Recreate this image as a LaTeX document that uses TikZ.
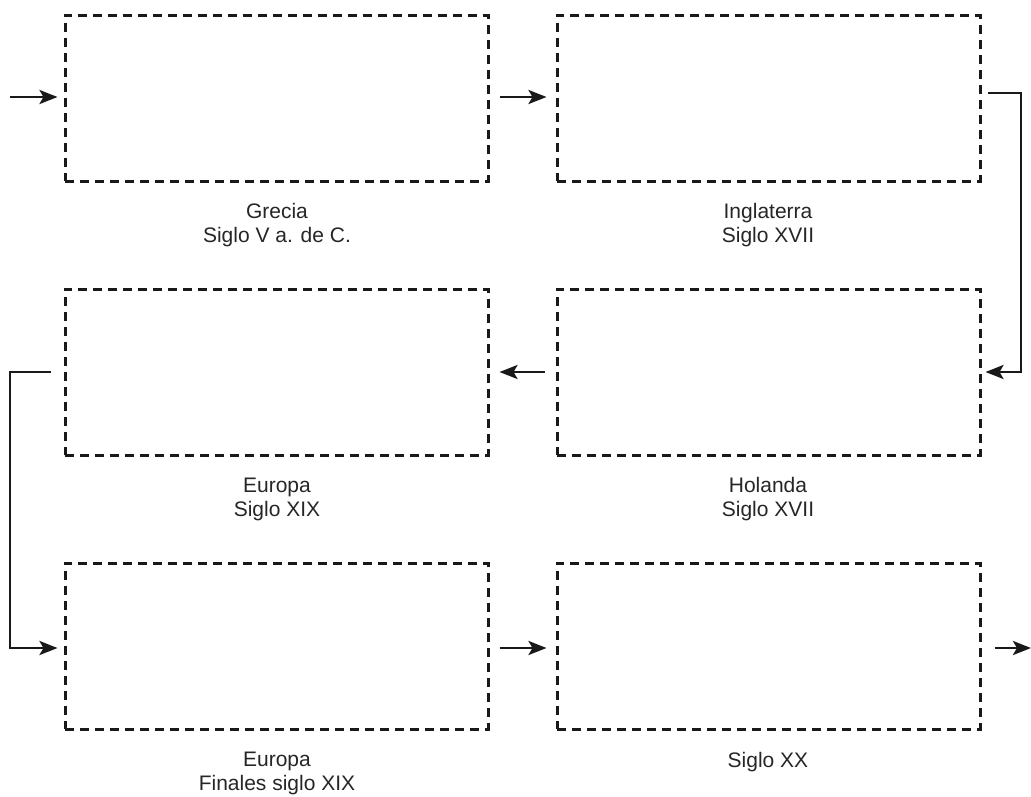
\documentclass[tikz,border=0pt]{standalone}
\usepackage{fontspec}
\setmainfont{Liberation Sans}
\usetikzlibrary{arrows.meta}
\begin{document}
\begin{tikzpicture}[x=1pt,y=-1pt,
  box/.style={draw=black!90,line width=3pt,dash pattern=on 9pt off 6pt,minimum width=423pt,minimum height=166pt,inner sep=0pt},
  lbl/.style={align=center,font=\fontsize{21}{24}\selectfont,text=black!85,inner sep=0pt},
  conn/.style={draw=black!90,line width=2.8pt,-{Stealth[length=18pt,width=14pt,inset=4pt]}}]
\useasboundingbox (0,0) rectangle (1031,796);
\node[box] (A) at (276.5,98) {};
\node[box] (B) at (768.5,98) {};
\node[box] (C) at (276.5,372) {};
\node[box] (D) at (768.5,372) {};
\node[box] (E) at (276.5,646) {};
\node[box] (F) at (768.5,646) {};
\node[lbl] (la) at (277,225) {Grecia\\Siglo V a. de C.};
\node[lbl] (lb) at (768,225) {Inglaterra\\Siglo XVII};
\node[lbl] (lc) at (277,499) {Europa\\Siglo XIX};
\node[lbl] (ld) at (768,499) {Holanda\\Siglo XVII};
\node[lbl] (le) at (277,773) {Europa\\Finales siglo XIX};
\node[lbl] (lf) at (768,762) {Siglo XX};
\coordinate (in) at (10,97);
\coordinate (out) at (1031,648);
\draw[conn] (in) -- ([xshift=-6pt]A.west |- in);
\draw[conn] ([xshift=10pt]A.east |- 0,97) -- ([xshift=-9pt]B.west |- 0,97);
\draw[conn] ([xshift=6pt]B.east |- 0,93) -| (1021,372) -- ([xshift=4pt]D.east |- 0,372);
\draw[conn] ([xshift=-11pt]D.west |- 0,372) -- ([xshift=10pt]C.east |- 0,372);
\draw[conn] ([xshift=-13pt]C.west |- 0,372) -| (10,648) -- ([xshift=-6pt]E.west |- 0,648);
\draw[conn] ([xshift=10pt]E.east |- 0,648) -- ([xshift=-9pt]F.west |- 0,648);
\draw[conn] ([xshift=13pt]F.east |- 0,648) -- (out);
\end{tikzpicture}
\end{document}
